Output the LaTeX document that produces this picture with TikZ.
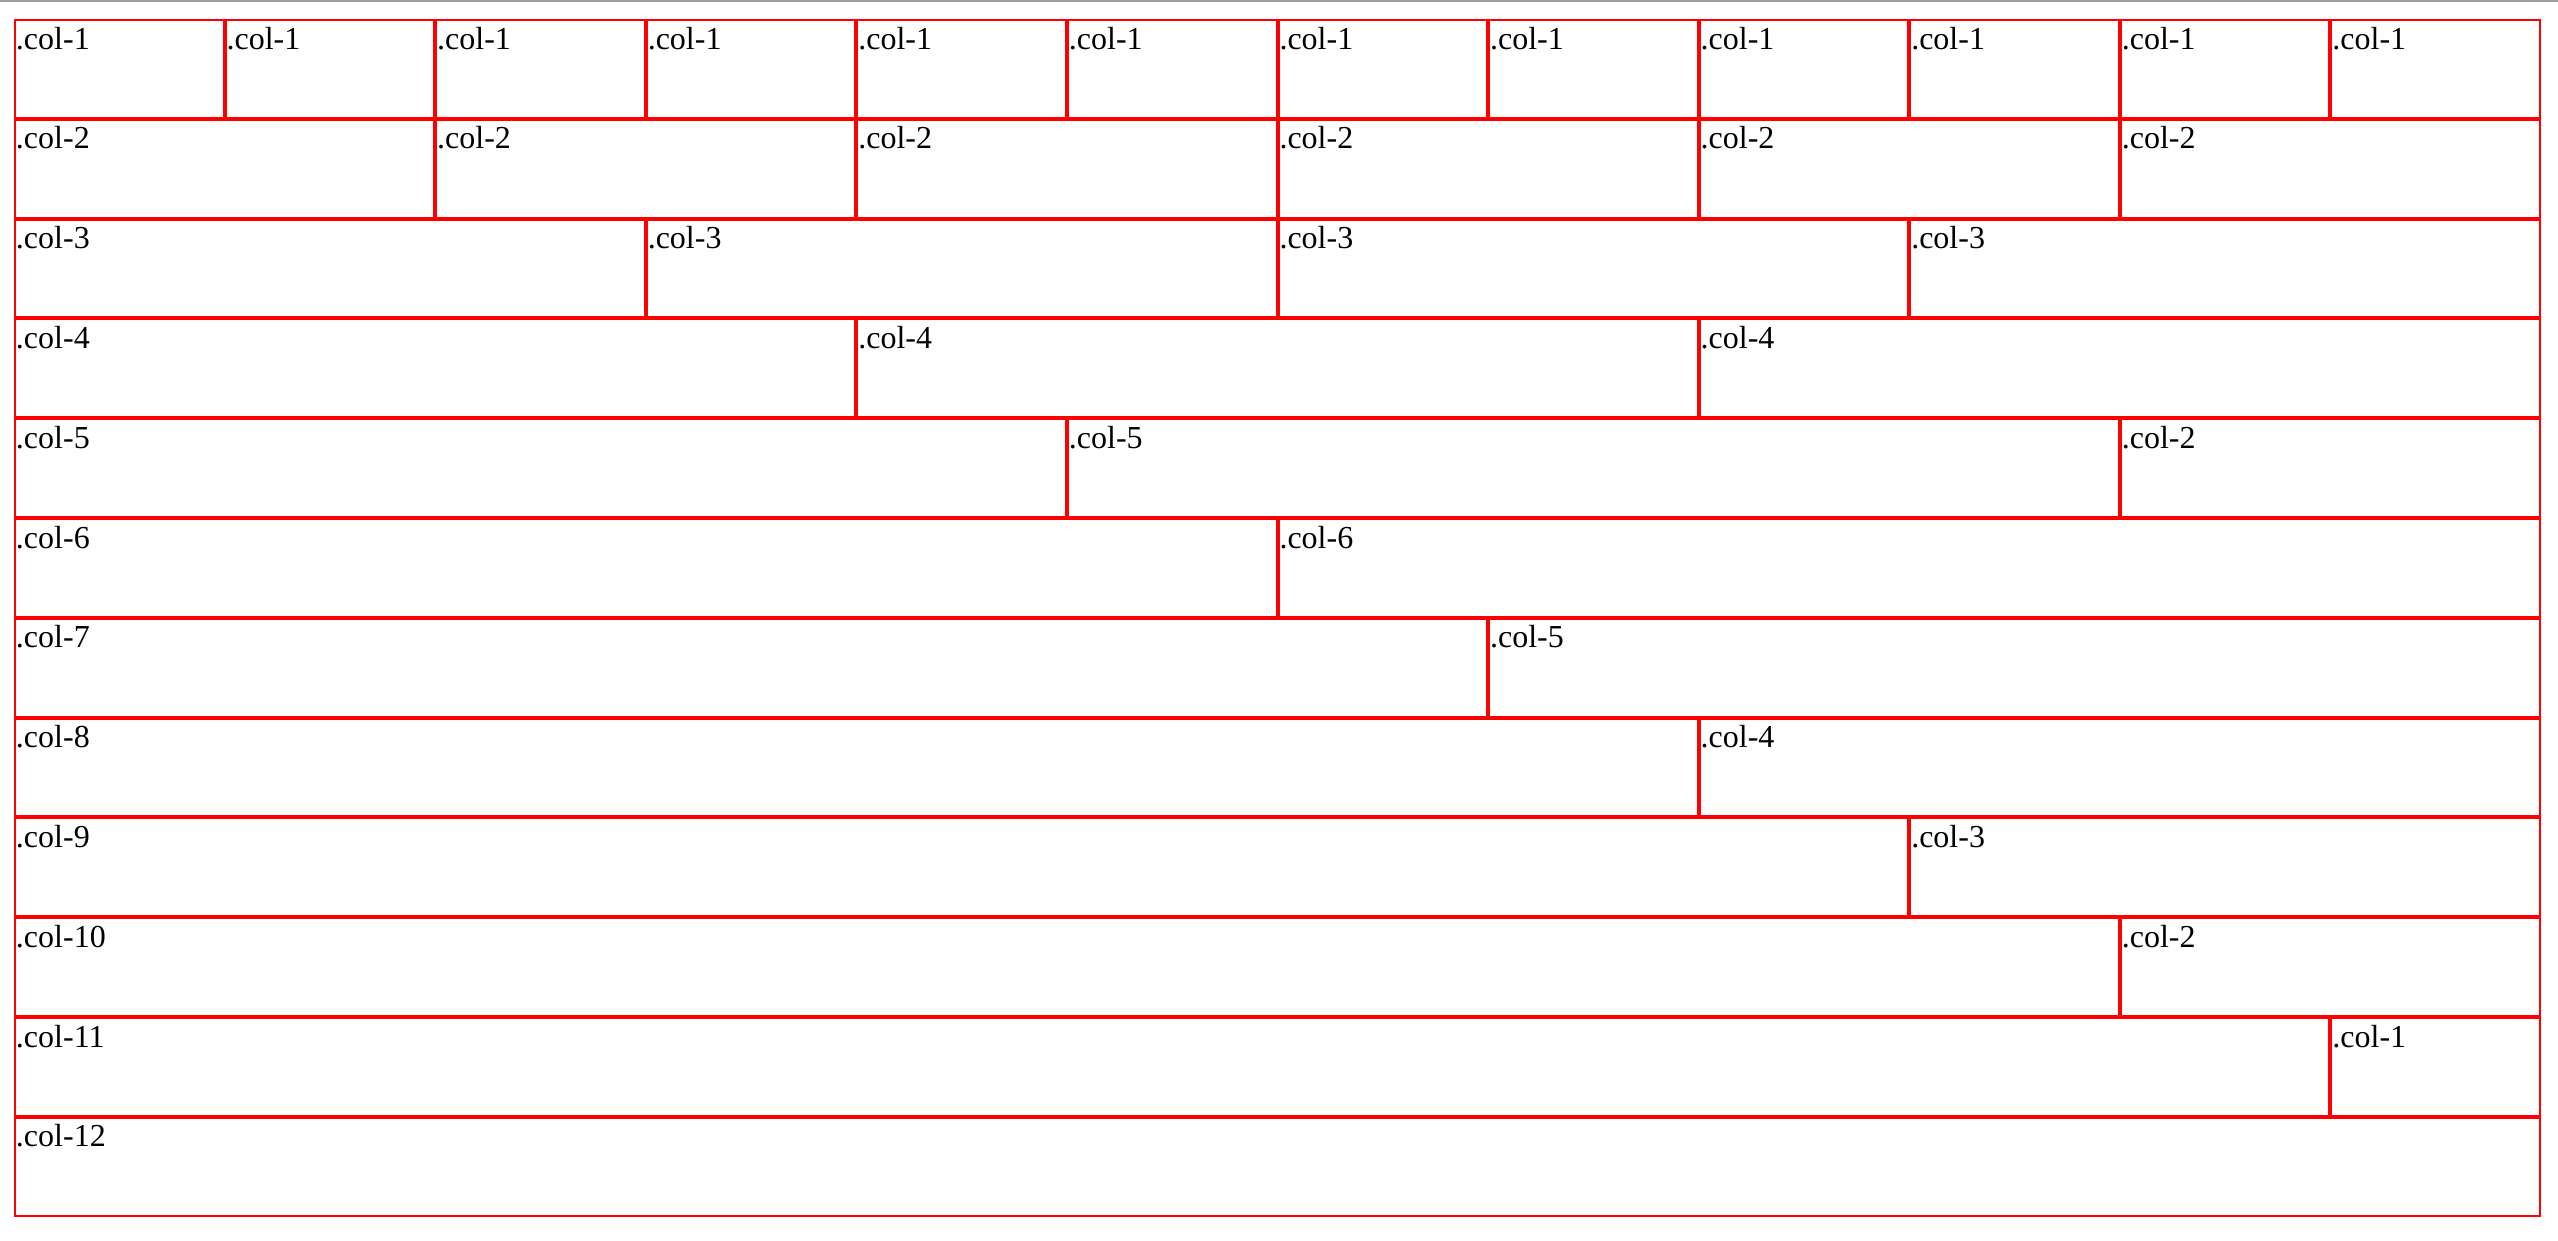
\documentclass[tikz,border=0pt]{standalone}
\usepackage{fontspec}
\setmainfont{Liberation Serif}
\def\W{210.583}
\def\H{99.8}
\def\xo{14}
\def\yo{19}
\tikzset{
  cell/.style={draw=red, line width=2pt, inner sep=0pt, outer sep=0pt, anchor=north west},
  lab/.style={inner sep=0pt, outer sep=0pt, anchor=base west, font=\fontsize{32}{37}\selectfont},
}
\newcommand\gridrow[2]{%
  \foreach \st/\sp [count=\i] in {#2} {
    \node[cell, minimum width={\sp*\W-2}, minimum height={\H-2}] (c#1-\i)
      at ({\xo+\st*\W+1}, {-\yo-(#1-1)*\H-1}) {};
    \node[lab] (t#1-\i) at ([shift={(1pt,-29pt)}]c#1-\i.north west) {.col-\sp};
  }%
}
\begin{document}
\begin{tikzpicture}[x=1pt,y=1pt]
\useasboundingbox (0,0) rectangle (2558,-1240);
\draw[gray!75, line width=1.5pt] (0,-0.75) -- (2558,-0.75);
\gridrow{1}{0/1,1/1,2/1,3/1,4/1,5/1,6/1,7/1,8/1,9/1,10/1,11/1}
\gridrow{2}{0/2,2/2,4/2,6/2,8/2,10/2}
\gridrow{3}{0/3,3/3,6/3,9/3}
\gridrow{4}{0/4,4/4,8/4}
\gridrow{5}{0/5,5/5,10/2}
\gridrow{6}{0/6,6/6}
\gridrow{7}{0/7,7/5}
\gridrow{8}{0/8,8/4}
\gridrow{9}{0/9,9/3}
\gridrow{10}{0/10,10/2}
\gridrow{11}{0/11,11/1}
\gridrow{12}{0/12}
\end{tikzpicture}
\end{document}
